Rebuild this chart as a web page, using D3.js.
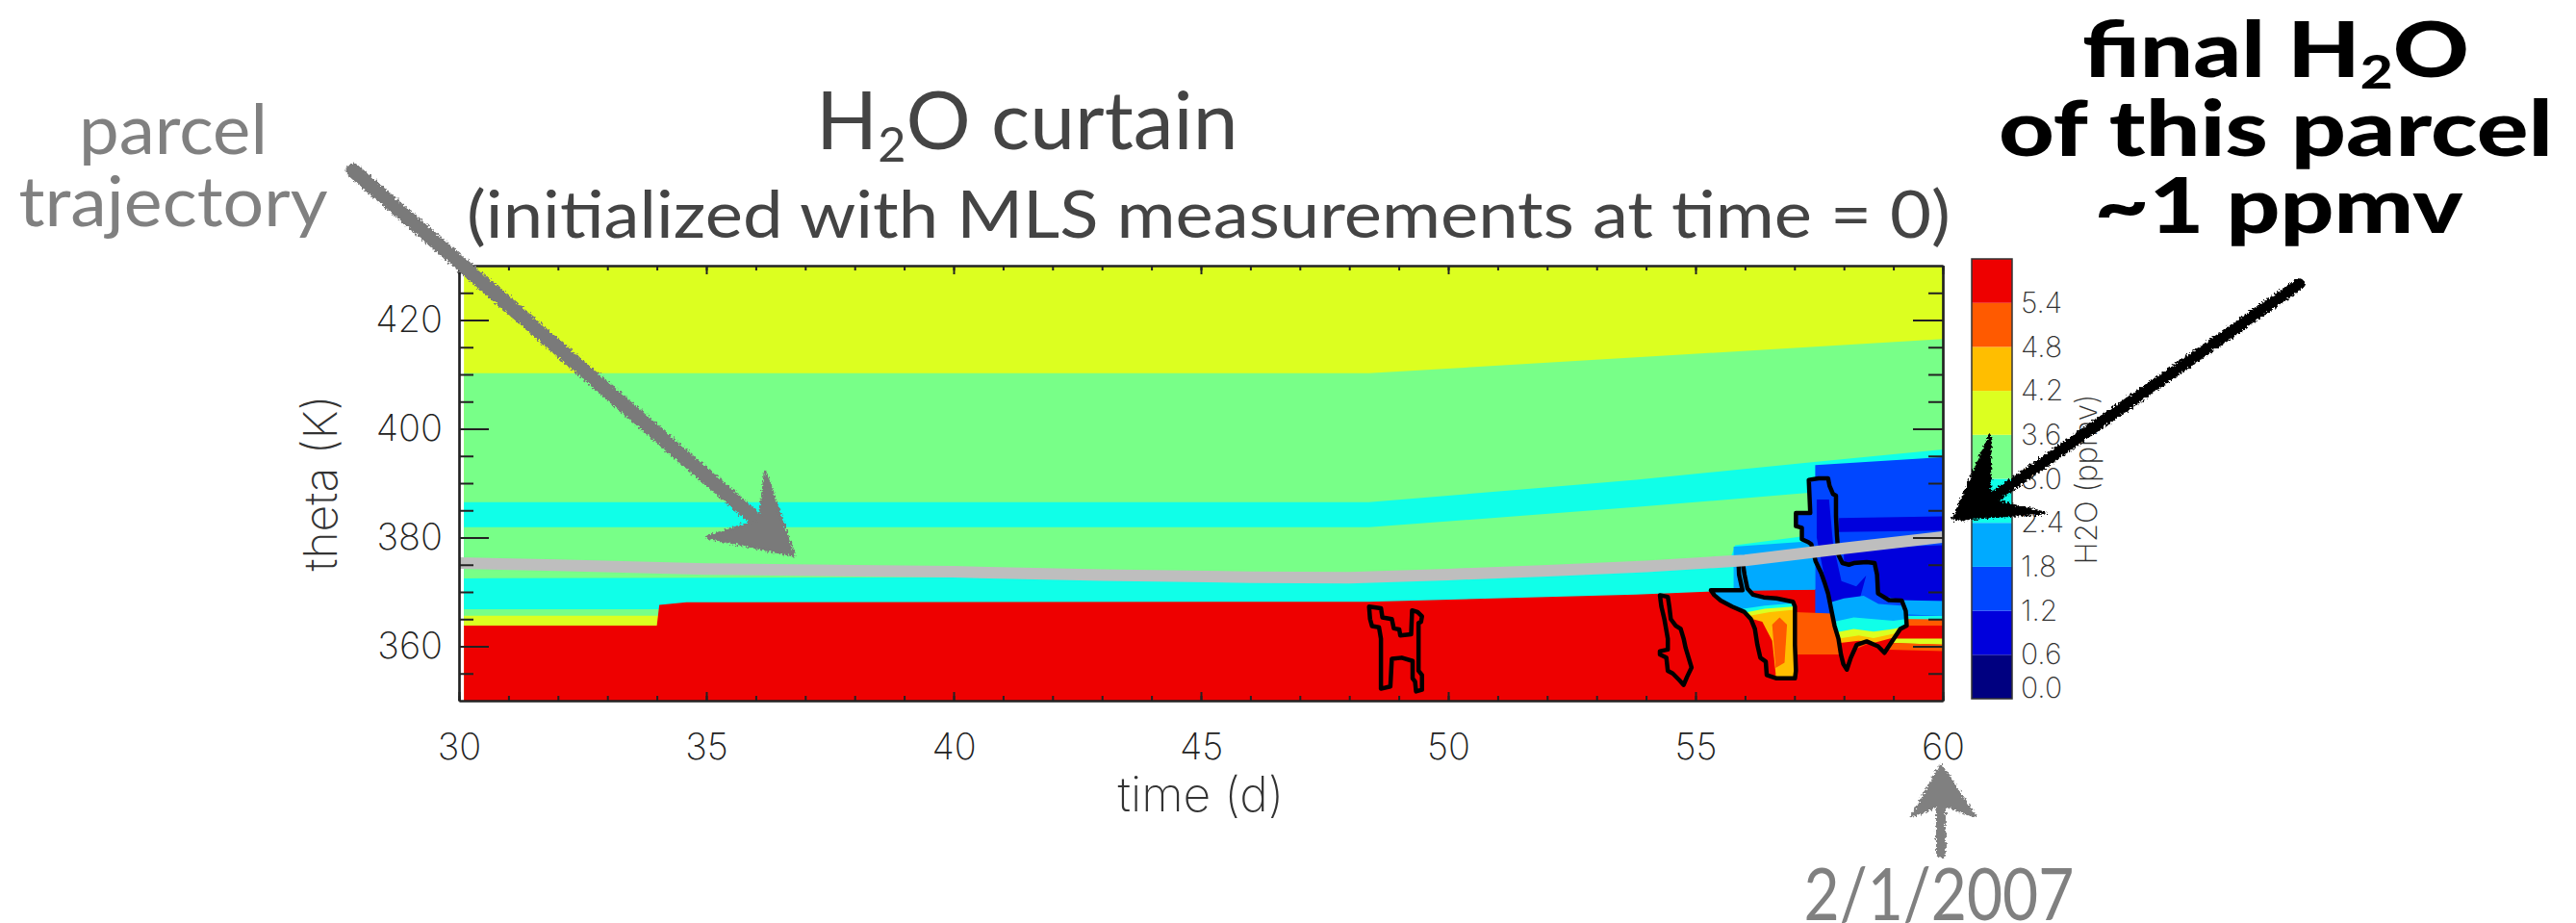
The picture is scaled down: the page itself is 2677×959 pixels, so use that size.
<!DOCTYPE html>
<html>
<head>
<meta charset="utf-8">
<script src="https://cdn.jsdelivr.net/npm/d3@7"></script>
<style>
  html, body { margin: 0; padding: 0; background: #fff; overflow: hidden; }
  svg { display: block; }
</style>
</head>
<body>
<svg id="curtainSvg" width="2677" height="959"></svg>
<script>
"use strict";

// H2O contour levels (ppmv), each band is 0.6 wide
var levelTicks = [0.0, 0.6, 1.2, 1.8, 2.4, 3.0, 3.6, 4.2, 4.8, 5.4];
var levelColors = ["#000080", "#0000dc", "#0046ff", "#00aaff", "#10ffe8",
                   "#78ff88", "#dcff20", "#ffbe00", "#ff5a00", "#ee0000"];

var timeTicks = [30, 35, 40, 45, 50, 55, 60];
var thetaTicks = [360, 380, 400, 420];

// horizontal layers of the curtain, upper edge as [time (d), theta (K)], filled down to 350 K
var bandLevels = [6, 5, 4, 5, 4, 5, 6, 9];
var bandEdges = [
  [[30.1, 430], [60, 430]],
  [[30.1, 410.2], [48.4, 410.2], [60, 416.5]],
  [[30.1, 386.5], [48.4, 386.5], [53.8, 390.6], [57.4, 393.9], [60, 396.2]],
  [[30.1, 381.9], [48.4, 381.9], [53.8, 385.6], [57.4, 388.3], [60, 390.0]],
  [[30.1, 372.5], [40, 372.7], [48, 372.6], [53.8, 375.5], [55.7, 376.0], [55.8, 378.6], [57.4, 380.5], [60, 382]],
  [[30.1, 366.8], [34.05, 366.8]],
  [[30.1, 365.6], [34.05, 365.6]],
  [[30.1, 363.8], [34.0, 363.8], [34.05, 367.6], [34.6, 368.1], [48.4, 368.2], [53.8, 369.5], [55.7, 370.2], [57, 370.4], [60, 371]]
];

// dried-out region near the end of the run
var patchLevels = [3, 2, 1, 1, 3, 4, 8, 9, 6, 8];
var patchPolys = [
  [[55.77, 378.3], [57.42, 379.4], [57.42, 370.4], [55.77, 370.2]],
  [[57.42, 393.3], [60, 394.8], [60, 365.5], [57.42, 365.5]],
  [[57.9, 383.6], [60, 383.9], [60, 381.3], [57.9, 381.0]],
  [[58.0, 378.0], [60, 378.6], [60, 368.3], [59.2, 368.4], [58.7, 369.5], [58.0, 372.5]],
  [[58.7, 368.6], [60, 368.3], [60, 365.6], [58.7, 366.0]],
  [[59.2, 365.6], [60, 365.6], [60, 364.9], [59.2, 364.9]],
  [[57.0, 366.3], [57.8, 366.0], [59.3, 365.0], [60, 364.9], [60, 363.8], [59.3, 363.8], [58.0, 358.5], [57.0, 358.5]],
  [[58.9, 363.8], [60, 363.8], [60, 361.4], [58.9, 361.4]],
  [[58.9, 361.4], [60, 361.4], [60, 360.3], [58.9, 360.6]],
  [[58.9, 360.6], [60, 360.3], [60, 359.1], [58.9, 359.4]]
];

// black contour outlines
var hContour = [[48.40, 367.3], [48.64, 367.0], [48.67, 365.3], [48.86, 365.0], [48.90, 363.3], [49.01, 363.1],
  [49.03, 362.0], [49.25, 362.2], [49.27, 366.6], [49.38, 366.3], [49.47, 365.5], [49.45, 364.5], [49.40, 364.3],
  [49.40, 355.5], [49.47, 354.7], [49.47, 352.0], [49.35, 351.7], [49.33, 353.5], [49.28, 354.1], [49.28, 357.3],
  [49.06, 357.9], [48.86, 357.7], [48.83, 352.6], [48.64, 352.2], [48.64, 361.4], [48.60, 363.5], [48.46, 363.7],
  [48.42, 365.0]];
var smallContour = [[54.28, 369.4], [54.44, 369.1], [54.47, 367.3], [54.50, 365.0], [54.60, 363.8], [54.70, 363.2],
  [54.76, 361.4], [54.80, 359.7], [54.86, 357.9], [54.92, 356.1], [54.83, 354.4], [54.76, 352.9], [54.67, 353.8],
  [54.54, 355.0], [54.44, 355.5], [54.41, 357.9], [54.28, 358.5], [54.28, 359.1], [54.44, 359.4], [54.44, 361.4],
  [54.37, 365.0], [54.31, 367.3]];
var middleContour = [[55.87, 375.3], [55.88, 373.2], [55.95, 370.3], [55.67, 370.3], [55.31, 370.3], [55.38, 369.4],
  [55.51, 368.4], [55.74, 367.3], [55.99, 366.3], [56.12, 365.0], [56.20, 363.2], [56.25, 360.3], [56.31, 357.9],
  [56.42, 357.2], [56.44, 354.7], [56.64, 354.1], [57.01, 354.1], [57.03, 355.5], [57.01, 360.3], [57.01, 367.3],
  [56.97, 368.2], [56.64, 368.8], [56.38, 369.0], [56.16, 369.5], [56.05, 370.6], [55.99, 373.2], [55.96, 375.1]];
var bigContour = [[57.29, 390.6], [57.49, 390.9], [57.68, 390.9], [57.71, 389.5], [57.78, 388.0], [57.84, 387.7],
  [57.84, 383.9], [57.86, 380.3], [57.89, 376.8], [57.97, 375.3], [58.10, 375.0], [58.20, 375.3], [58.46, 375.5],
  [58.62, 375.3], [58.67, 373.2], [58.69, 369.7], [58.91, 368.5], [59.17, 368.4], [59.25, 366.5], [59.27, 363.8],
  [59.14, 363.2], [59.01, 361.4], [58.82, 358.8], [58.69, 360.0], [58.46, 360.9], [58.26, 360.3], [58.14, 357.9],
  [58.06, 355.7], [57.99, 356.7], [57.94, 358.5], [57.89, 361.4], [57.81, 363.8], [57.75, 366.5], [57.68, 369.7],
  [57.62, 371.4], [57.54, 373.5], [57.43, 375.6], [57.34, 378.8], [57.29, 379.1], [57.15, 379.7], [57.15, 381.8],
  [57.03, 382.1], [57.03, 384.5], [57.32, 384.5]];

// filled levels inside the two right contours (clipped to the outline)
var middleFillLevels = [3, 4, 6, 7, 9, 8];
var middleFills = [
  [[55.2, 376], [57.1, 376], [57.1, 350], [55.2, 350]],
  [[55.2, 367.0], [55.9, 366.8], [56.4, 367.5], [57.1, 368.0], [57.1, 350], [55.2, 350]],
  [[55.2, 366.4], [56.0, 366.2], [56.4, 366.9], [57.1, 367.4], [57.1, 350], [55.2, 350]],
  [[55.2, 365.8], [56.1, 365.6], [56.5, 366.3], [57.1, 366.8], [57.1, 350], [55.2, 350]],
  [[55.2, 365.6], [56.0, 365.4], [56.35, 364.5], [56.55, 361], [56.62, 355], [56.62, 350], [55.2, 350]],
  [[56.55, 364.0], [56.7, 365.3], [56.85, 364.0], [56.8, 357], [56.62, 356]]
];
var bigFillLevels = [2, 1, 3, 4, 6, 7, 9];
var bigFills = [
  [[57, 392], [59.4, 392], [59.4, 350], [57, 350]],
  [[57.45, 387], [57.7, 387], [57.78, 379], [57.95, 372], [58.25, 371], [58.45, 373], [58.3, 368], [58.0, 364], [57.8, 366], [57.6, 373], [57.45, 380]],
  [[57.7, 368], [58.0, 368.8], [58.4, 369.3], [58.7, 367.8], [59.4, 367.3], [59.4, 350], [57.7, 350]],
  [[57.8, 364.5], [58.2, 365.3], [58.6, 365.0], [59.0, 364.7], [59.4, 365.2], [59.4, 350], [57.8, 350]],
  [[57.8, 362.5], [58.2, 363.2], [58.6, 362.7], [59.0, 363.2], [59.4, 364.0], [59.4, 350], [57.8, 350]],
  [[57.8, 361.3], [58.3, 362.0], [58.6, 361.5], [59.0, 362.3], [59.4, 363.3], [59.4, 350], [57.8, 350]],
  [[57.8, 360.5], [58.3, 361.0], [58.6, 360.6], [59.0, 361.6], [59.4, 362.6], [59.4, 350], [57.8, 350]]
];

// parcel trajectory
var trajTime = [30, 32, 35, 38, 40, 43, 46, 48, 50, 52, 54, 56, 58, 60];
var trajTheta = [375.3, 374.9, 374.2, 373.9, 373.7, 373.1, 372.7, 372.6, 373.2, 373.9, 374.7, 375.8, 378.0, 380.1];

// hand drawn arrows, in plot units: shaft start, shaft end, head (tip, wing, notch, wing)
var trajArrowShaft = [[27.86, 447.5], [36.3, 381.0]];
var trajArrowHead = [[36.77, 376.7], [36.19, 392.1], [36.09, 383.2], [35.0, 380.1]];
var finalArrowShaft = [[67.2, 426.6], [60.9, 386.6]];
var finalArrowHead = [[60.21, 383.3], [60.95, 398.7], [60.95, 386.9], [62.06, 384.5]];
var dateArrowShaft = [[59.96, 321.9], [59.96, 331.5]];
var dateArrowHead = [[59.96, 338.1], [59.38, 328.8], [59.96, 331.0], [60.64, 328.8]];


var svg = d3.select("#curtainSvg");

var x = d3.scaleLinear().domain([30, 60]).range([477, 2019]);
var y = d3.scaleLinear().domain([350, 430]).range([728, 276]);
var cbY = d3.scaleLinear().domain([0, 6]).range([726, 269]);

var axisFont = "Inter, 'DejaVu Sans', sans-serif";
var slideFont = "Lato, 'Open Sans', sans-serif";

var line = d3.line().x(function (d) { return x(d[0]); }).y(function (d) { return y(d[1]); });
function poly(pts) { return line(pts) + "Z"; }
function below(edge) {
  return edge.concat([[edge[edge.length - 1][0], 350], [edge[0][0], 350]]);
}

var defs = svg.append("defs");
defs.append("clipPath").attr("id", "plotClip")
  .append("rect")
  .attr("x", x(30)).attr("y", y(430))
  .attr("width", x(60) - x(30)).attr("height", y(350) - y(430));
defs.append("clipPath").attr("id", "middleClip").append("path").attr("d", poly(middleContour));
defs.append("clipPath").attr("id", "bigClip").append("path").attr("d", poly(bigContour));

var rough = defs.append("filter").attr("id", "rough")
  .attr("x", "-20%").attr("y", "-20%").attr("width", "140%").attr("height", "140%");
rough.append("feTurbulence").attr("type", "fractalNoise").attr("baseFrequency", 0.45)
  .attr("numOctaves", 2).attr("seed", 3).attr("result", "noise");
rough.append("feDisplacementMap").attr("in", "SourceGraphic").attr("in2", "noise")
  .attr("scale", 7).attr("xChannelSelector", "R").attr("yChannelSelector", "G");

// curtain fill
var plot = svg.append("g").attr("clip-path", "url(#plotClip)");

plot.selectAll("path.band")
  .data(bandEdges)
  .enter().append("path")
  .attr("class", "band")
  .attr("d", function (d) { return poly(below(d)); })
  .style("fill", function (d, i) { return levelColors[bandLevels[i]]; });

plot.selectAll("path.patch")
  .data(patchPolys)
  .enter().append("path")
  .attr("class", "patch")
  .attr("d", poly)
  .style("fill", function (d, i) { return levelColors[patchLevels[i]]; });

plot.append("g").attr("clip-path", "url(#middleClip)")
  .selectAll("path")
  .data(middleFills)
  .enter().append("path")
  .attr("d", poly)
  .style("fill", function (d, i) { return levelColors[middleFillLevels[i]]; });

plot.append("g").attr("clip-path", "url(#bigClip)")
  .selectAll("path")
  .data(bigFills)
  .enter().append("path")
  .attr("d", poly)
  .style("fill", function (d, i) { return levelColors[bigFillLevels[i]]; });

plot.selectAll("path.outline")
  .data([hContour, smallContour, middleContour, bigContour])
  .enter().append("path")
  .attr("class", "outline")
  .attr("d", poly)
  .style("fill", "none")
  .style("stroke", "#000")
  .style("stroke-width", 4.5)
  .style("stroke-linejoin", "round");

plot.append("path")
  .datum(d3.zip(trajTime, trajTheta))
  .attr("d", line)
  .style("fill", "none")
  .style("stroke", "#bebebe")
  .style("stroke-width", 12);

// axes
function styleAxis(g) {
  g.attr("color", "#222")
    .attr("font-family", axisFont)
    .attr("font-size", 38)
    .attr("font-weight", 200);
  g.selectAll(".domain").style("stroke-width", 2.2);
  g.selectAll(".tick line").style("stroke-width", 2);
}

svg.append("g")
  .attr("transform", "translate(0," + y(350) + ")")
  .call(d3.axisBottom(x).tickValues(d3.range(30, 61)).tickSize(-5).tickSizeOuter(0).tickFormat(""))
  .call(styleAxis);
svg.append("g")
  .attr("transform", "translate(0," + y(350) + ")")
  .call(d3.axisBottom(x).tickValues(timeTicks).tickSize(-9).tickSizeOuter(0).tickPadding(34).tickFormat(d3.format("d")))
  .call(styleAxis);
svg.append("g")
  .attr("transform", "translate(0," + y(430) + ")")
  .call(d3.axisTop(x).tickValues(d3.range(30, 61)).tickSize(-5).tickSizeOuter(0).tickFormat(""))
  .call(styleAxis);
svg.append("g")
  .attr("transform", "translate(0," + y(430) + ")")
  .call(d3.axisTop(x).tickValues(timeTicks).tickSize(-9).tickSizeOuter(0).tickFormat(""))
  .call(styleAxis);
svg.append("g")
  .attr("transform", "translate(" + x(30) + ",0)")
  .call(d3.axisLeft(y).tickValues(d3.range(355, 430, 5)).tickSize(-15).tickSizeOuter(0).tickFormat(""))
  .call(styleAxis);
svg.append("g")
  .attr("transform", "translate(" + x(30) + ",0)")
  .call(d3.axisLeft(y).tickValues(thetaTicks).tickSize(-31).tickSizeOuter(0).tickPadding(17).tickFormat(d3.format("d")))
  .call(styleAxis);
svg.append("g")
  .attr("transform", "translate(" + x(60) + ",0)")
  .call(d3.axisRight(y).tickValues(d3.range(355, 430, 5)).tickSize(-15).tickSizeOuter(0).tickFormat(""))
  .call(styleAxis);
svg.append("g")
  .attr("transform", "translate(" + x(60) + ",0)")
  .call(d3.axisRight(y).tickValues(thetaTicks).tickSize(-31).tickSizeOuter(0).tickFormat(""))
  .call(styleAxis);

// scale font so the text spans w pixels
function fitWidth(sel, w) {
  var len = sel.node().getComputedTextLength();
  var fs = parseFloat(sel.attr("font-size"));
  sel.attr("font-size", (fs * w / len).toFixed(1));
}
// keep the font height, squeeze or widen the glyphs to span w pixels
function stretchTo(sel, w) {
  var len = sel.node().getComputedTextLength();
  var cx = +sel.attr("x");
  sel.attr("transform", "translate(" + cx + ",0) scale(" + (w / len).toFixed(3) + ",1) translate(" + (-cx) + ",0)");
}

var timeLabel = svg.append("text")
  .attr("x", (x(30) + x(60)) / 2).attr("y", 843)
  .attr("text-anchor", "middle")
  .attr("font-family", axisFont).attr("font-weight", 200).attr("font-size", 40)
  .style("fill", "#333")
  .text("time (d)");
fitWidth(timeLabel, 173);

var thetaLabel = svg.append("text")
  .attr("transform", "translate(350," + (y(350) + y(430)) / 2 + ") rotate(-90)")
  .attr("text-anchor", "middle")
  .attr("font-family", axisFont).attr("font-weight", 200).attr("font-size", 40)
  .style("fill", "#333")
  .text("theta (K)");
fitWidth(thetaLabel, 183);

// colour bar
var cb = svg.append("g");
cb.selectAll("rect.level")
  .data(levelTicks)
  .enter().append("rect")
  .attr("class", "level")
  .attr("x", 2049).attr("width", 42)
  .attr("y", function (d) { return cbY(d + 0.6); })
  .attr("height", function (d) { return cbY(d) - cbY(d + 0.6); })
  .style("fill", function (d, i) { return levelColors[i]; });
cb.append("rect")
  .attr("x", 2049).attr("width", 42)
  .attr("y", cbY(6)).attr("height", cbY(0) - cbY(6))
  .style("fill", "none").style("stroke", "#333").style("stroke-width", 1.5);

var cbAxis = svg.append("g")
  .attr("transform", "translate(2091,0)")
  .call(d3.axisRight(cbY).tickValues(levelTicks).tickSize(0).tickPadding(9).tickFormat(d3.format(".1f")));
cbAxis.select(".domain").remove();
cbAxis.attr("font-family", axisFont).attr("font-size", 30).attr("font-weight", 200).attr("color", "#333");
cbAxis.selectAll(".tick text").filter(function (d) { return d === 0; }).attr("y", -11);

var cbLabel = svg.append("text")
  .attr("transform", "translate(2179,498) rotate(-90)")
  .attr("text-anchor", "middle")
  .attr("font-family", axisFont).attr("font-weight", 200).attr("font-size", 30)
  .style("fill", "#333")
  .text("H2O (ppmv)");
fitWidth(cbLabel, 177);

// slide annotations
var t1 = svg.append("text")
  .attr("x", 848).attr("y", 155)
  .attr("font-family", slideFont).attr("font-size", 84)
  .style("fill", "#444");
t1.append("tspan").text("H");
t1.append("tspan").text("2").attr("font-size", "0.6em").attr("dy", "0.25em");
t1.append("tspan").text("O curtain").attr("dy", "-0.15em");

var t2 = svg.append("text")
  .attr("x", 485).attr("y", 247)
  .attr("font-family", slideFont).attr("font-size", 68)
  .style("fill", "#444")
  .text("(initialized with MLS measurements at time = 0)");
stretchTo(t2, 1542);

var p1 = svg.append("text")
  .attr("x", 180).attr("y", 160).attr("text-anchor", "middle")
  .attr("font-family", slideFont).attr("font-size", 72)
  .style("fill", "#808080").text("parcel");
stretchTo(p1, 196);
var p2 = svg.append("text")
  .attr("x", 180).attr("y", 235).attr("text-anchor", "middle")
  .attr("font-family", slideFont).attr("font-size", 72)
  .style("fill", "#808080").text("trajectory");
stretchTo(p2, 321);

var f1 = svg.append("text")
  .attr("x", 2365).attr("y", 80).attr("text-anchor", "middle")
  .attr("font-family", slideFont).attr("font-weight", 900).attr("font-size", 80)
  .style("fill", "#000");
f1.append("tspan").text("final H");
f1.append("tspan").text("2").attr("font-size", "0.6em").attr("dy", "0.25em");
f1.append("tspan").text("O").attr("dy", "-0.15em");
stretchTo(f1, 402);
var f2 = svg.append("text")
  .attr("x", 2365).attr("y", 162).attr("text-anchor", "middle")
  .attr("font-family", slideFont).attr("font-weight", 900).attr("font-size", 80)
  .style("fill", "#000").text("of this parcel");
stretchTo(f2, 576);
var f3 = svg.append("text")
  .attr("x", 2368).attr("y", 242).attr("text-anchor", "middle")
  .attr("font-family", slideFont).attr("font-weight", 900).attr("font-size", 80)
  .style("fill", "#000").text("~1 ppmv");
stretchTo(f3, 383);

var d1 = svg.append("text")
  .attr("x", 2015).attr("y", 956).attr("text-anchor", "middle")
  .attr("font-family", slideFont).attr("font-size", 76)
  .style("fill", "#808080").text("2/1/2007");
stretchTo(d1, 281);

function drawArrow(shaft, head, color, width) {
  var g = svg.append("g").attr("filter", "url(#rough)");
  g.append("path")
    .attr("d", line(shaft))
    .style("fill", "none").style("stroke", color)
    .style("stroke-width", width).style("stroke-linecap", "round");
  g.append("path")
    .attr("d", poly(head))
    .style("fill", color).style("stroke", color)
    .style("stroke-width", 3).style("stroke-linejoin", "round");
}
drawArrow(trajArrowShaft, trajArrowHead, "#7a7a7a", 15);
drawArrow(finalArrowShaft, finalArrowHead, "#000", 12);
drawArrow(dateArrowShaft, dateArrowHead, "#808080", 10);
</script>
</body>
</html>
